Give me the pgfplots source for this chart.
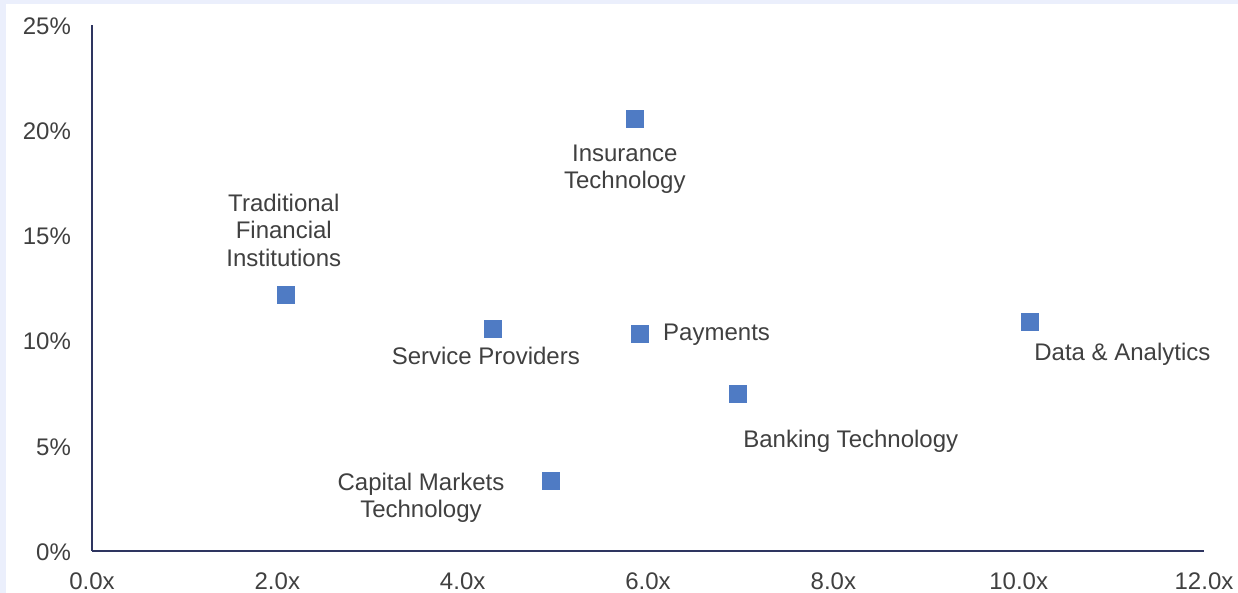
\documentclass[border=0pt]{standalone}
\usepackage{pgfplots}
\pgfplotsset{compat=1.18}
\usepackage{fontspec}
\setmainfont{Liberation Sans}
\definecolor{mkblue}{HTML}{4F7BC4}
\definecolor{axnavy}{HTML}{2E3560}
\definecolor{txtgrey}{HTML}{404040}
\definecolor{frame}{HTML}{EBEFFC}

\begin{document}
\begin{tikzpicture}[x=0.5pt,y=0.5pt]
% page = 1238 x 593 px at 0.5pt per px
\useasboundingbox (0,0) rectangle (1238,593);
\fill[frame] (0,0) rectangle (1238,593);
\fill[white] (6,0) rectangle (1238,589);
\begin{axis}[
  at={(46pt,21pt)}, anchor=south west,
  scale only axis, width=556pt, height=263pt,
  xmin=0, xmax=12, ymin=0, ymax=25,
  xtick={0,2,...,12}, ytick={0,5,...,25},
  axis lines=left,
  axis line style={axnavy, line width=1pt, -},
  major tick length=0pt,
  font=\fontsize{12}{13.75}\selectfont,
  /pgf/number format/assume math mode=true,
  xticklabel={\pgfmathprintnumber[fixed,fixed zerofill,precision=1]{\tick}x},
  yticklabel={\pgfmathprintnumber[fixed,precision=0]{\tick}\%},
  xticklabel style={txtgrey, yshift=-7.5pt},
  yticklabel style={txtgrey, xshift=-7pt, yshift=-0.5pt},
  clip=false,
]
\addplot[only marks, mark=square*, mark size=4.3pt, mkblue,
  mark options={draw=mkblue, fill=mkblue}] coordinates {
  (2.09,12.17) (4.33,10.55) (4.95,3.33) (5.86,20.53)
  (5.91,10.31) (6.97,7.46) (10.12,10.88)};
\begin{scope}[every node/.style={txtgrey, font=\fontsize{12}{13.75}\selectfont, inner sep=0pt}]
\node[align=center] at (axis cs:2.07,15.25) {Traditional\\Financial\\Institutions};
\node[align=center] at (axis cs:5.75,18.15) {Insurance\\Technology};
\node at (axis cs:4.25,9.27) {Service Providers};
\node[anchor=west] at (axis cs:6.16,10.26) {Payments};
\node[anchor=west] at (axis cs:10.165,9.36) {Data \& Analytics};
\node[anchor=west] at (axis cs:7.025,5.23) {Banking Technology};
\node[align=center] at (axis cs:3.55,2.52) {Capital Markets\\Technology};
\end{scope}
\end{axis}
\end{tikzpicture}
\end{document}
